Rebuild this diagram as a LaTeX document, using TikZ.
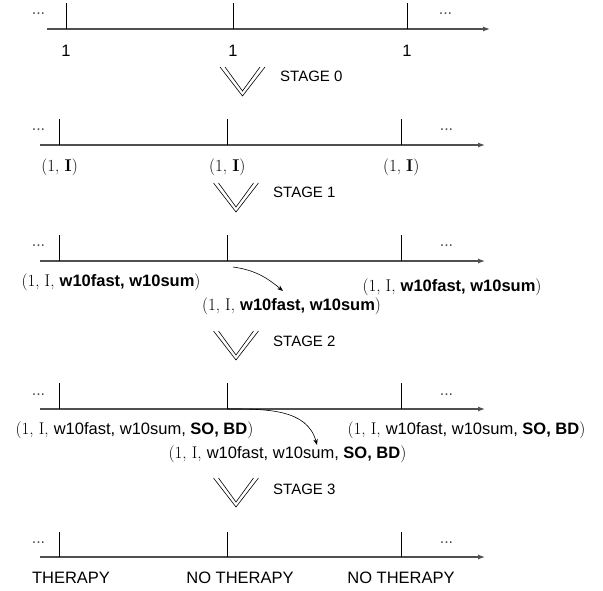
\documentclass[tikz,border=0pt]{standalone}
\usepackage{fontspec}
\newfontfamily\hv{Liberation Sans}
\usetikzlibrary{arrows.meta}
\newcommand{\lblrm}[1]{{\rmfamily\fontsize{17}{20}\selectfont #1}}
\newcommand{\lblsf}[1]{{\hv\fontsize{16.5}{20}\selectfont #1}}
\newcommand{\lblbf}[1]{{\hv\bfseries\fontsize{16.5}{20}\selectfont #1}}
\definecolor{axisgray}{HTML}{505050}
\begin{document}
\begin{tikzpicture}[x=1pt,y=-1pt,
  axisline/.style={draw=axisgray, line width=1.2pt, -{Latex[length=7pt,width=5pt]}},
  tickline/.style={draw=black, line width=0.6pt},
  lbl/.style={inner sep=0pt, anchor=center},
  dotlbl/.style={inner sep=0pt, anchor=center, text=black!70, font=\hv\fontsize{16}{18}\selectfont},
  stagelbl/.style={inner sep=0pt, anchor=west, font=\hv\fontsize{15}{18}\selectfont},
  curvearrow/.style={draw=black, line width=0.6pt, -{Stealth[length=6pt,width=4.5pt]}},
  chev/.pic={\draw[line width=0.6pt] (-22.5,0)--(0,29)--(22.5,0);
             \draw[line width=0.6pt] (-17.5,0)--(0,24)--(17.5,0);}
]
\useasboundingbox (0,0) rectangle (603,591);

% ---------- Row 0 ----------
\coordinate (a0s) at (47,29); \coordinate (a0e) at (490,29);
\draw[axisline] (a0s) -- (a0e);
\foreach \n/\x in {1/66,2/233,3/407}{
  \coordinate (t0\n) at (\x,3); \coordinate (b0\n) at (\x,29);
  \draw[tickline] (t0\n) -- (b0\n);
  \node[lbl] (l0\n) at (\x,51) {\lblsf{1}};
}
\node[dotlbl] (d0l) at (38.5,14) {...};
\node[dotlbl] (d0r) at (445.5,14) {...};

% ---------- STAGE 0 ----------
\pic at (242.5,67) {chev};
\node[stagelbl] (s0) at (280,76) {STAGE 0};

% ---------- Row 1 ----------
\coordinate (a1s) at (40,145); \coordinate (a1e) at (485,145);
\draw[axisline] (a1s) -- (a1e);
\foreach \n/\x in {1/59.6,2/227.3,3/401.2}{
  \coordinate (t1\n) at (\x,119); \coordinate (b1\n) at (\x,145);
  \draw[tickline] (t1\n) -- (b1\n);
  \node[lbl] (l1\n) at (\x,167) {\lblrm{(1, \textbf{I})}};
}
\node[dotlbl] (d1l) at (38.5,130) {...};
\node[dotlbl] (d1r) at (446.5,130) {...};

% ---------- STAGE 1 ----------
\pic at (236,183) {chev};
\node[stagelbl] (s1) at (273,192) {STAGE 1};

% ---------- Row 2 ----------
\coordinate (a2s) at (40,261); \coordinate (a2e) at (485,261);
\draw[axisline] (a2s) -- (a2e);
\foreach \n/\x in {1/59.6,2/227.3,3/401.2}{
  \coordinate (t2\n) at (\x,235); \coordinate (b2\n) at (\x,261);
  \draw[tickline] (t2\n) -- (b2\n);
}
\node[dotlbl] (d2l) at (38.5,246) {...};
\node[dotlbl] (d2r) at (446.5,246) {...};
\node[lbl] (l21) at (111,282) {\lblrm{(1, I, }\lblbf{w10fast, w10sum}\lblrm{)}};
\node[lbl] (l22) at (291.5,306) {\lblrm{(1, I, }\lblbf{w10fast, w10sum}\lblrm{)}};
\node[lbl] (l23) at (452,287) {\lblrm{(1, I, }\lblbf{w10fast, w10sum}\lblrm{)}};
\coordinate (c2s) at (233,267);
\coordinate (c2e) at (283,291);
\draw[curvearrow] (c2s) to[out=-8, in=140] (c2e);

% ---------- STAGE 2 ----------
\pic at (236,331) {chev};
\node[stagelbl] (s2) at (273,341) {STAGE 2};

% ---------- Row 3 ----------
\coordinate (a3s) at (40,409); \coordinate (a3e) at (485,409);
\draw[axisline] (a3s) -- (a3e);
\foreach \n/\x in {1/59.6,2/227.3,3/401.2}{
  \coordinate (t3\n) at (\x,383); \coordinate (b3\n) at (\x,409);
  \draw[tickline] (t3\n) -- (b3\n);
}
\node[dotlbl] (d3l) at (38.5,395) {...};
\node[dotlbl] (d3r) at (446.5,395) {...};
\node[lbl] (l31) at (134.5,430) {\lblrm{(1, I, }\lblsf{w10fast, w10sum, }\lblbf{SO, BD}\lblrm{)}};
\node[lbl] (l32) at (287.5,454) {\lblrm{(1, I, }\lblsf{w10fast, w10sum, }\lblbf{SO, BD}\lblrm{)}};
\node[lbl] (l33) at (466.5,430) {\lblrm{(1, I, }\lblsf{w10fast, w10sum, }\lblbf{SO, BD}\lblrm{)}};
\coordinate (c3e) at (317,445);
\draw[curvearrow] (b32) to[out=0, in=105] (c3e);

% ---------- STAGE 3 ----------
\pic at (236,478) {chev};
\node[stagelbl] (s3) at (273,489) {STAGE 3};

% ---------- Row 4 ----------
\coordinate (a4s) at (40,557); \coordinate (a4e) at (485,557);
\draw[axisline] (a4s) -- (a4e);
\foreach \n/\x in {1/59.6,2/227.3,3/401.2}{
  \coordinate (t4\n) at (\x,532); \coordinate (b4\n) at (\x,557);
  \draw[tickline] (t4\n) -- (b4\n);
}
\node[dotlbl] (d4l) at (38.5,543) {...};
\node[dotlbl] (d4r) at (446.5,543) {...};
\node[lbl] (l41) at (71,578) {\lblsf{THERAPY}};
\node[lbl] (l42) at (240,578) {\lblsf{NO THERAPY}};
\node[lbl] (l43) at (401,578) {\lblsf{NO THERAPY}};
\end{tikzpicture}
\end{document}
